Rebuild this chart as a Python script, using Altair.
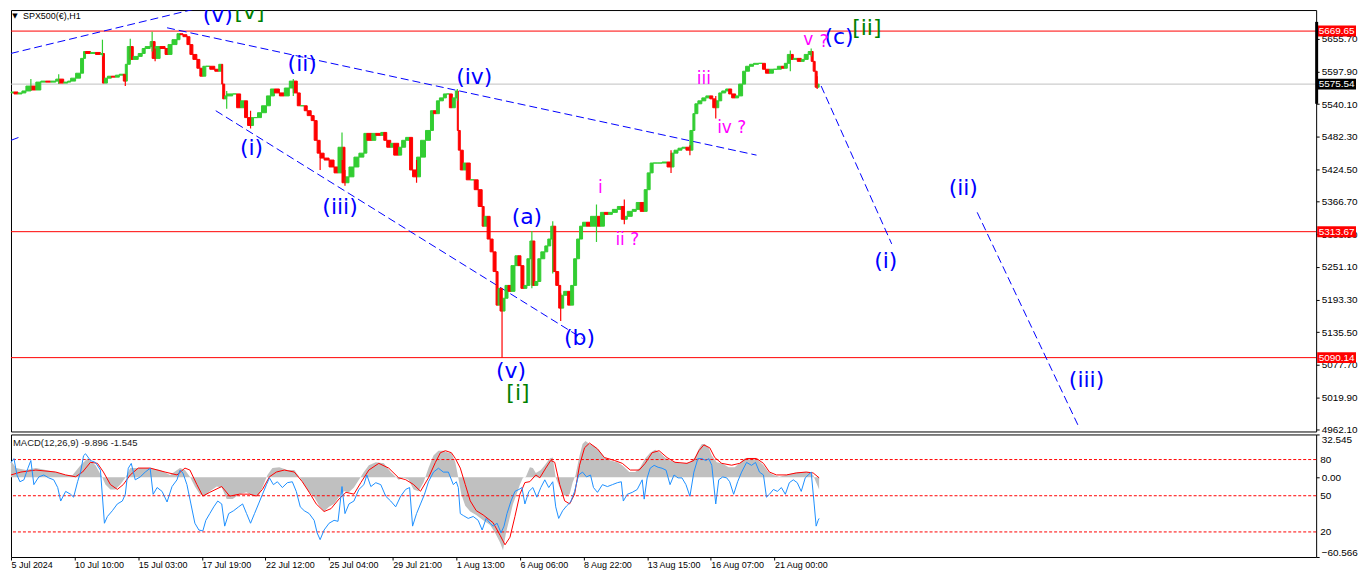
import json
import numpy as np
import pandas as pd
import altair as alt

# ---------------- price path (H1 bars, bar number from first visible bar) ----------------
bar_pos = [0, 3, 7, 11, 15, 20, 25, 30, 35, 40,
           45, 48, 53, 57, 60, 65, 70, 73, 75, 80,
           85, 90, 92, 94, 97, 101, 105, 109, 113, 115,
           117, 120, 123, 128, 132, 135, 140, 142, 145, 150,
           155, 158, 162, 167, 170, 173, 177, 180, 183, 187,
           190, 193, 196, 200, 205, 209, 212, 213, 215, 217,
           223, 227, 231, 235, 238, 241, 244, 248, 252, 257,
           261, 265, 270, 275, 280, 284, 288, 291, 295, 298,
           302, 305, 308, 311, 315, 320, 325, 329, 333, 336,
           340, 345, 350, 355, 358, 363, 367, 372, 375, 378,
           382, 385, 390, 393, 397, 401, 404, 408, 412, 417,
           422, 425, 428, 431, 435, 438, 441, 444, 447, 449,
           450, 452, 455, 458, 462, 466, 470, 474, 476, 479,
           482, 485, 488, 490, 492, 494, 497, 500, 503, 507,
           510, 513, 516, 519, 522, 524, 527, 530, 533, 537,
           540, 543, 545, 548, 551, 553, 556, 560, 563, 566,
           569, 572, 575, 579, 583, 589, 593, 597, 601, 605,
           610, 614, 617, 620, 625, 629, 633, 637, 640, 643,
           646, 650, 655, 660, 664, 667, 671, 675, 679, 683,
           686, 688, 691, 695, 699, 703, 706, 709, 712, 715,
           719, 722, 725, 729, 732, 736, 739, 743, 747, 752,
           756, 759, 763, 767, 771, 775, 778, 781, 784, 787,
           791, 795, 798, 802, 805, 807, 809, 811, 813]
bar_close = [5559.9, 5561.6, 5558.1, 5559.9, 5563.4, 5572.1, 5565.1, 5579.1, 5580.9, 5579.1,
             5580.9, 5584.4, 5577.4, 5579.1, 5580.9, 5586.1, 5594.9, 5621.2, 5633.4, 5629.9,
             5631.7, 5628.2, 5629.9, 5577.4, 5586.1, 5589.6, 5587.9, 5591.4, 5593.1, 5580.9,
             5610.7, 5642.2, 5619.4, 5624.7, 5629.9, 5638.7, 5642.2, 5651.0, 5621.2, 5642.2,
             5638.7, 5628.2, 5645.7, 5654.4, 5665.0, 5663.2, 5659.7, 5645.7, 5628.2, 5619.4,
             5603.7, 5589.6, 5607.2, 5607.2, 5601.9, 5598.4, 5610.7, 5575.6, 5549.4, 5554.6,
             5558.1, 5558.1, 5533.6, 5545.9, 5516.1, 5502.1, 5516.1, 5516.1, 5524.8, 5537.1,
             5554.6, 5566.9, 5559.9, 5554.6, 5568.6, 5580.9, 5559.9, 5537.1, 5537.1, 5528.3,
             5519.6, 5510.8, 5475.8, 5453.0, 5444.3, 5440.8, 5428.5, 5418.0, 5463.5, 5400.5,
             5411.0, 5428.5, 5446.0, 5453.0, 5488.1, 5475.8, 5488.1, 5484.6, 5489.8, 5475.8,
             5463.5, 5470.5, 5449.5, 5463.5, 5475.8, 5481.0, 5423.2, 5411.0, 5446.0, 5475.8,
             5493.3, 5528.3, 5523.1, 5545.9, 5551.1, 5558.1, 5558.1, 5533.6, 5551.1, 5563.4,
             5493.3, 5458.3, 5423.2, 5435.5, 5405.7, 5405.7, 5388.2, 5358.4, 5323.4, 5340.9,
             5300.6, 5277.9, 5242.9, 5183.3, 5213.1, 5172.8, 5195.5, 5218.3, 5207.8, 5253.4,
             5270.9, 5253.4, 5213.1, 5218.3, 5265.6, 5297.1, 5218.3, 5225.3, 5265.6, 5277.9,
             5288.4, 5300.6, 5323.4, 5242.9, 5218.3, 5178.0, 5200.8, 5207.8, 5183.3, 5218.3,
             5265.6, 5300.6, 5323.4, 5330.4, 5323.4, 5340.9, 5323.4, 5347.9, 5344.4, 5347.9,
             5353.2, 5358.4, 5335.7, 5340.9, 5349.7, 5353.2, 5365.5, 5349.7, 5388.2, 5418.0,
             5435.5, 5435.5, 5435.5, 5437.3, 5428.5, 5453.0, 5458.3, 5461.8, 5463.5, 5458.3,
             5493.3, 5523.1, 5540.6, 5545.9, 5551.1, 5554.6, 5549.4, 5533.6, 5545.9, 5559.9,
             5563.4, 5566.9, 5558.1, 5551.1, 5554.6, 5575.6, 5598.4, 5607.2, 5610.7, 5612.4,
             5612.4, 5601.9, 5594.9, 5601.9, 5601.9, 5607.2, 5603.7, 5612.4, 5628.2, 5619.4,
             5621.2, 5615.9, 5619.4, 5628.2, 5633.4, 5615.9, 5598.4, 5570.0, 5575.5]

# wicks that stick out of the path
spike_pos = [20, 48, 92, 115, 120, 142, 145, 217, 241, 284, 311, 333, 336, 408, 449,
             494, 524, 545, 553, 589, 617, 664, 683, 709, 784, 805, 811]
spike_hi = [5584.4, 5593.1, 5654.4, 5593.1, 5656.2, 5668.5, 5638.7, 5563.4, 5528.3, 5584.4,
            5458.3, 5489.8, 5423.2, 5440.8, 5566.9, 5213.1, 5314.7, 5332.2, 5204.3, 5361.9,
            5370.7, 5458.3, 5467.0, 5554.6, 5635.2, 5638.7, 5589.6]
spike_lo = [5563.4, 5575.6, 5624.7, 5572.1, 5615.9, 5633.4, 5615.9, 5531.8, 5496.8, 5554.6,
            5423.2, 5440.8, 5395.2, 5400.5, 5545.9, 5090.1, 5213.1, 5239.4, 5155.2, 5295.4,
            5326.9, 5418.0, 5449.5, 5514.3, 5598.4, 5624.7, 5566.9]

# price scale
price_ticks = [4962.10, 5019.90, 5077.70, 5135.50, 5193.30, 5251.10, 5308.90,
               5366.70, 5424.50, 5482.30, 5540.10, 5597.90, 5655.70]
level_prices = [5669.65, 5313.67, 5090.14]
last_price = [5575.54]
scale_bar = [5686.0, 5540.6]

# time axis
time_tick_pos = [0, 64, 128, 192, 256, 320, 384, 448, 512, 576, 640, 704, 768]
time_tick_labels = ["5 Jul 2024", "10 Jul 10:00", "15 Jul 03:00", "17 Jul 19:00", "22 Jul 12:00",
                    "25 Jul 04:00", "29 Jul 21:00", "1 Aug 13:00", "6 Aug 06:00", "8 Aug 22:00",
                    "13 Aug 15:00", "16 Aug 07:00", "21 Aug 00:00"]

# trend / projection lines
tl_seg = ["A", "A", "B", "B", "C", "C", "D", "D", "E", "E", "F", "F"]
tl_bar = [0, 200, 0, 8, 157, 750, 206, 575, 815, 886, 972, 1075]
tl_price = [5630.0, 5715.2, 5475.8, 5481.1, 5675.5, 5449.5, 5528.3, 5124.0,
            5572.2, 5292.0, 5348.0, 4964.4]

# wave labels
wave_text = ["(v)", "[v]", "(ii)", "(i)", "(iii)", "(iv)", "(a)", "(b)", "(v)", "[i]",
             "i", "ii ?", "iii", "iv ?", "v", "?", "(c)", "[ii]", "(i)", "(ii)", "(iii)"]
wave_bar = [208, 240, 293, 242, 331, 466, 519, 572, 503, 510,
            593, 620, 697, 725, 802, 818, 833, 861, 880, 958, 1082]
wave_price = [5698.2, 5703.5, 5610.7, 5461.8, 5356.7, 5587.9, 5339.2, 5125.5, 5066.0, 5027.4,
              5391.7, 5298.9, 5584.4, 5496.8, 5654.4, 5651.0, 5659.7, 5675.5, 5262.1, 5391.7, 5050.2]
wave_degree = ["minute", "minor", "minute", "minute", "minute", "minute", "minute", "minute",
               "minute", "minor", "minuette", "minuette", "minuette", "minuette", "minuette",
               "minuette", "minute", "minor", "minute", "minute", "minute"]

# ---------------- MACD window ----------------
hist_bar = [0, 5, 15, 25, 35, 45, 55, 62, 70, 77,
            85, 92, 95, 100, 105, 110, 115, 120, 130, 140,
            150, 160, 170, 175, 180, 185, 190, 195, 200, 207,
            212, 217, 223, 230, 237, 243, 249, 253, 258, 263,
            270, 278, 285, 290, 295, 300, 305, 310, 315, 320,
            325, 330, 335, 340, 345, 350, 355, 360, 367, 375,
            382, 390, 395, 400, 405, 410, 415, 420, 425, 430,
            435, 440, 443, 447, 450, 453, 457, 462, 468, 475,
            482, 487, 492, 495, 498, 502, 505, 508, 512, 515,
            518, 522, 525, 528, 533, 537, 542, 545, 548, 552,
            555, 558, 562, 565, 568, 572, 575, 578, 582, 587,
            592, 597, 603, 610, 615, 622, 628, 633, 638, 643,
            648, 653, 658, 663, 668, 673, 678, 683, 688, 692,
            695, 698, 702, 705, 710, 715, 722, 728, 733, 738,
            742, 747, 752, 757, 762, 767, 773, 780, 787, 793,
            798, 803, 807, 810, 813]
hist_val = [12.8, 7.0, 5.5, 7.0, 5.5, 4.0, 1.8, 1.8, 9.2, 14.3,
            9.2, -0.4, -5.5, -9.2, -9.2, -5.5, -0.4, 7.0, 7.0, 7.0,
            5.5, 1.8, 7.0, 5.5, 0.4, -7.0, -12.8, -14.3, -10.6, -7.0,
            -7.7, -16.5, -16.5, -12.8, -11.4, -14.3, -14.3, -7.7, 1.8, 7.0,
            7.7, 5.5, 5.5, 0.4, -5.5, -11.4, -15.0, -21.6, -26.0, -22.4,
            -20.2, -15.0, -10.6, -11.4, -7.7, -1.8, 4.0, 9.2, 11.4, 10.6,
            4.0, -1.8, -0.4, -1.8, -9.2, -10.6, -4.0, 7.0, 16.5, 20.2,
            20.2, 18.7, 18.7, 11.4, -0.4, -12.8, -21.6, -26.0, -28.6, -32.6,
            -36.3, -42.2, -49.5, -55.4, -42.2, -29.7, -20.2, -14.3, -5.5, -0.4,
            0.4, 7.7, 7.0, 3.3, 5.5, 9.2, 14.3, 15.0, -0.4, -7.7,
            -12.8, -14.3, -12.8, -4.0, 1.8, 16.5, 25.3, 27.5, 25.3, 23.8,
            20.2, 15.0, 12.8, 11.4, 9.2, 4.0, 4.0, 7.7, 14.3, 18.7,
            20.9, 18.7, 15.0, 12.8, 11.4, 10.6, 10.6, 11.4, 15.0, 21.6,
            25.3, 25.3, 22.4, 16.5, 11.4, 10.6, 7.7, 7.7, 10.6, 14.3,
            14.3, 14.3, 12.8, 9.2, 4.0, 1.8, 0.4, 1.8, 3.3, 4.0,
            4.0, 4.0, 1.8, -4.0, -9.2]

sig_bar = [0, 10, 25, 45, 55, 65, 72, 80, 87, 93,
           100, 107, 113, 120, 128, 140, 155, 167, 175, 180,
           187, 193, 200, 212, 220, 230, 240, 247, 253, 260,
           267, 275, 285, 293, 300, 307, 315, 322, 330, 337,
           345, 352, 360, 370, 380, 390, 397, 405, 412, 420,
           427, 432, 437, 443, 447, 452, 457, 462, 468, 475,
           485, 492, 497, 502, 507, 512, 517, 522, 528, 532,
           538, 543, 547, 552, 557, 562, 567, 572, 577, 582,
           590, 597, 607, 615, 623, 632, 638, 645, 652, 660,
           668, 680, 687, 692, 697, 703, 708, 715, 725, 733,
           740, 750, 757, 763, 770, 780, 790, 800, 807, 813]
sig_val = [1.8, 4.0, 5.5, 4.0, 1.8, 0.4, 4.0, 11.4, 10.6, 4.0,
           -5.5, -9.2, -5.5, 1.8, 7.0, 7.0, 4.0, 1.8, 7.0, 5.5,
           -5.5, -14.3, -11.4, -7.0, -14.3, -12.8, -12.8, -14.3, -9.2, 0.4,
           4.0, 5.5, 4.0, -3.3, -11.4, -20.2, -26.0, -23.8, -16.5, -11.4,
           -12.8, -4.0, 5.5, 10.6, 7.0, -0.4, -1.8, -5.5, -10.6, -0.4,
           11.4, 18.7, 20.2, 18.7, 14.3, 7.0, -5.5, -17.9, -25.3, -28.6,
           -34.5, -44.0, -51.3, -45.5, -29.7, -12.8, -4.0, -3.3, 1.8, -0.4,
           7.0, 12.8, 11.4, -5.5, -17.9, -20.2, -12.8, 9.2, 22.4, 26.0,
           21.6, 15.0, 12.8, 10.6, 5.5, 5.5, 10.6, 18.7, 20.2, 15.0,
           11.4, 10.6, 12.8, 20.2, 24.6, 22.4, 15.0, 10.6, 9.2, 10.6,
           14.3, 14.3, 10.6, 4.0, 1.8, 1.8, 3.3, 4.0, 3.3, -0.4]

stoch_bar = [0, 3, 6, 9, 13, 17, 20, 23, 28, 33,
             38, 43, 47, 50, 55, 60, 63, 67, 70, 73,
             75, 80, 85, 90, 94, 97, 102, 107, 112, 115,
             118, 121, 125, 130, 135, 140, 143, 147, 152, 157,
             162, 167, 170, 173, 177, 181, 185, 189, 193, 196,
             200, 204, 208, 212, 215, 219, 224, 229, 233, 237,
             241, 245, 249, 253, 257, 260, 264, 268, 273, 278,
             283, 287, 291, 295, 300, 305, 308, 311, 315, 320,
             325, 329, 333, 336, 340, 345, 350, 355, 358, 362,
             367, 372, 377, 382, 387, 392, 397, 401, 404, 408,
             412, 416, 420, 425, 430, 435, 440, 445, 448, 450,
             452, 455, 460, 465, 470, 474, 478, 482, 485, 489,
             493, 496, 499, 503, 507, 511, 514, 517, 521, 525,
             529, 533, 537, 541, 545, 548, 551, 555, 559, 563,
             567, 571, 575, 579, 583, 586, 590, 595, 600, 605,
             610, 614, 616, 620, 625, 630, 635, 637, 640, 643,
             647, 651, 655, 659, 663, 667, 671, 675, 679, 683,
             687, 691, 695, 699, 702, 705, 709, 712, 716, 720,
             723, 727, 731, 735, 740, 745, 749, 753, 757, 760,
             763, 767, 771, 775, 779, 783, 787, 791, 795, 799,
             802, 805, 808, 810, 812, 813]
stoch_val = [77.6, 80.8, 67.2, 61.6, 63.2, 72.8, 79.2, 59.2, 65.6, 67.2,
             64.8, 63.2, 56.8, 45.6, 53.6, 51.2, 48.8, 61.6, 69.6, 83.2,
             84.8, 79.2, 77.6, 71.2, 27.2, 32.8, 37.6, 43.2, 45.6, 51.2,
             72.8, 76.8, 63.2, 65.6, 69.6, 72.8, 51.2, 56.8, 53.6, 44.8,
             57.6, 63.2, 71.2, 68.8, 59.2, 43.2, 27.2, 21.6, 20.8, 29.6,
             35.2, 40.8, 45.6, 43.2, 24.8, 35.2, 37.6, 40.8, 43.2, 35.2,
             27.2, 35.2, 43.2, 51.2, 59.2, 64.8, 59.2, 61.6, 56.8, 60.8,
             61.6, 53.6, 40.8, 37.6, 35.2, 29.6, 19.2, 13.6, 21.6, 27.2,
             29.6, 28.8, 57.6, 35.2, 43.2, 45.6, 55.2, 59.2, 67.2, 57.6,
             60.8, 59.2, 49.6, 45.6, 40.8, 49.6, 55.2, 56.8, 24.8, 35.2,
             43.2, 51.2, 61.6, 69.6, 72.8, 69.6, 69.6, 59.2, 61.6, 56.8,
             35.2, 33.6, 31.2, 32.8, 29.6, 21.6, 31.2, 27.2, 24.8, 27.2,
             19.2, 24.8, 35.2, 45.6, 53.6, 55.2, 56.8, 43.2, 53.6, 56.8,
             48.8, 56.8, 63.2, 56.8, 61.6, 40.8, 31.2, 37.6, 41.6, 44.8,
             53.6, 67.2, 69.6, 65.6, 67.2, 56.8, 52.8, 59.2, 57.6, 59.2,
             60.8, 61.6, 45.6, 51.2, 52.8, 55.2, 63.2, 47.2, 64.8, 72.8,
             75.2, 73.6, 72.8, 71.2, 59.2, 67.2, 64.8, 64.8, 59.2, 49.6,
             69.6, 80.8, 80.8, 79.2, 80.8, 75.2, 43.2, 63.2, 65.6, 64.8,
             61.6, 51.2, 61.6, 69.6, 77.6, 75.2, 77.6, 69.6, 67.2, 48.8,
             51.2, 55.2, 53.6, 56.8, 51.2, 60.8, 63.2, 60.8, 53.6, 64.8,
             67.2, 69.6, 43.2, 24.8, 29.6, 31.2]
stoch_levels = [80, 50, 20]
macd_axis_values = [32.545, 0.0, -60.566]

assert len(bar_pos) == len(bar_close)
assert len(hist_bar) == len(hist_val)
assert len(sig_bar) == len(sig_val)
assert len(stoch_bar) == len(stoch_val)

# ---------------- frames ----------------
bars = pd.DataFrame({"bar": bar_pos, "close": bar_close})
bars["open"] = bars["close"].shift(1).fillna(bars["close"])
bars["bar0"] = bars["bar"].shift(1).fillna(bars["bar"])
bars["dir"] = np.where(bars["close"] >= bars["open"], "up", "down")

spikes = pd.DataFrame({"bar": spike_pos, "hi": spike_hi, "lo": spike_lo})
spikes = spikes.merge(bars[["bar", "dir"]], on="bar", how="left").fillna({"dir": "up"})

levels_df = pd.DataFrame({"price": level_prices})
last_df = pd.DataFrame({"price": last_price})
lev_tags = pd.DataFrame({"price": level_prices})
lev_tags["label"] = lev_tags["price"].map(lambda v: f"{v:.2f}")
last_tags = pd.DataFrame({"price": last_price})
last_tags["label"] = last_tags["price"].map(lambda v: f"{v:.2f}")
lines_df = pd.DataFrame({"seg": tl_seg, "bar": tl_bar, "price": tl_price})
waves_df = pd.DataFrame({"t": wave_text, "bar": wave_bar, "price": wave_price, "deg": wave_degree})
sbar_df = pd.DataFrame({"hi": [scale_bar[0]], "lo": [scale_bar[1]]})

hist_df = pd.DataFrame({"bar": hist_bar, "val": hist_val})
sig_df = pd.DataFrame({"bar": sig_bar, "val": sig_val})
stoch_df = pd.DataFrame({"bar": stoch_bar, "val": stoch_val})
slev_df = pd.DataFrame({"lvl": stoch_levels})

# ---------------- layout ----------------
W, H1, H2 = 1310, 423, 123
FONT = "Liberation Sans"
xs = alt.Scale(domain=[0, 1313], nice=False, zero=False)
ys = alt.Scale(domain=[4959.1, 5707.0], nice=False, zero=False)
dir_scale = alt.Scale(domain=["up", "down"], range=["#32cd32", "#ff0000"])

yaxis = alt.Axis(orient="right", values=price_ticks, format=".2f", title=None, tickSize=3,
                 labelPadding=2, labelFontSize=10, labelFont=FONT, labelColor="black",
                 tickColor="black", grid=False, domain=False)


def Y(field):
    return alt.Y(field, scale=ys, axis=yaxis)


XN = dict(scale=xs, axis=None)

lev = alt.Chart(levels_df).mark_rule(color="#ff0000", strokeWidth=1).encode(y=Y("price:Q"))
lastl = alt.Chart(last_df).mark_rule(color="#c0c0c0", strokeWidth=1).encode(y=Y("price:Q"))

candles = alt.Chart(bars).mark_rect(strokeWidth=1).encode(
    x=alt.X("bar0:Q", **XN), x2="bar:Q",
    y=Y("open:Q"), y2="close:Q",
    fill=alt.Fill("dir:N", scale=dir_scale, legend=None),
    stroke=alt.Stroke("dir:N", scale=dir_scale, legend=None))

wicks = alt.Chart(spikes).mark_rule(strokeWidth=1.2).encode(
    x=alt.X("bar:Q", **XN),
    y=Y("hi:Q"), y2="lo:Q",
    stroke=alt.Stroke("dir:N", scale=dir_scale, legend=None))

tlines = alt.Chart(lines_df).mark_line(color="#0000ff", strokeWidth=1, strokeDash=[8, 4], clip=True).encode(
    x=alt.X("bar:Q", **XN), y=Y("price:Q"), detail="seg:N")

deg_style = {"minor": ("#008000", 22), "minute": ("#0000ff", 22), "minuette": ("#ff00ff", 17)}
wave_layers = []
for deg, (col, fs) in deg_style.items():
    wave_layers.append(
        alt.Chart(waves_df).transform_filter(alt.datum.deg == deg).mark_text(
            font="DejaVu Sans", fontSize=fs, color=col, align="center", baseline="middle", clip=True
        ).encode(x=alt.X("bar:Q", **XN), y=Y("price:Q"), text="t:N"))

tag_layers = []
for tdf, col in ((lev_tags, "#ff0000"), (last_tags, "#000000")):
    tag_layers.append(alt.Chart(tdf).mark_tick(orient="horizontal", thickness=11, size=39, color=col,
                                               opacity=1).encode(
        x=alt.value(W + 20.5), y=Y("price:Q")))
    tag_layers.append(alt.Chart(tdf).mark_text(align="left", baseline="middle", font=FONT, fontSize=10,
                                               color="white").encode(
        x=alt.value(W + 2.5), y=Y("price:Q"), text="label:N"))

sbar = alt.Chart(sbar_df).mark_rule(color="black", strokeWidth=3).encode(
    x=alt.value(W + 0.5), y=Y("hi:Q"), y2="lo:Q")

title_txt = alt.Chart(pd.DataFrame({"t": ["SPX500(€),H1"]})).mark_text(
    align="left", baseline="middle", font=FONT, fontSize=9, color="black").encode(
    x=alt.value(12), y=alt.value(6), text="t:N")
tri_txt = alt.Chart(pd.DataFrame({"t": ["▼"]})).mark_text(
    align="center", baseline="middle", font="DejaVu Sans", fontSize=7, color="black").encode(
    x=alt.value(4), y=alt.value(6), text="t:N")

main = alt.layer(lev, lastl, tlines, candles, wicks, *wave_layers, *tag_layers, sbar,
                 title_txt, tri_txt).properties(width=W, height=H1)

# ---------------- MACD panel ----------------
ms = alt.Scale(domain=[-60.566, 32.545], nice=False, zero=False)
ss = alt.Scale(domain=[-0.8, 100.8], nice=False, zero=False)

xaxis = alt.Axis(values=time_tick_pos,
                 labelExpr=f"{json.dumps(time_tick_labels)}[indexof({json.dumps(time_tick_pos)}, datum.value)]",
                 title=None, tickSize=3, labelPadding=1, labelAlign="left", labelFontSize=9,
                 labelFont=FONT, labelColor="black", tickColor="black", grid=False, domain=False,
                 labelFlush=False, labelOverlap=False)
maxis = alt.Axis(orient="right", values=macd_axis_values, title=None, tickSize=3, labelPadding=2,
                 labelFontSize=10, labelFont=FONT, labelColor="black", tickColor="black",
                 grid=False, domain=False,
                 labelExpr="datum.value == 0 ? '0.00' : format(datum.value, '.3f')",
                 labelBaseline={"condition": [{"test": "datum.value > 30", "value": "top"},
                                              {"test": "datum.value < -50", "value": "bottom"}],
                                "value": "middle"})


def MX(field):
    return alt.X(field, scale=xs, axis=xaxis)


hist = alt.Chart(hist_df).mark_area(color="#c0c0c0").encode(
    x=MX("bar:Q"), y=alt.Y("val:Q", scale=ms, axis=maxis), y2=alt.datum(0))
sig = alt.Chart(sig_df).mark_line(color="#ff0000", strokeWidth=1).encode(
    x=MX("bar:Q"), y=alt.Y("val:Q", scale=ms, axis=maxis))
macd_part = alt.layer(hist, sig)

slev = alt.Chart(slev_df).mark_rule(color="#ff0000", strokeWidth=1, strokeDash=[3, 2]).encode(
    y=alt.Y("lvl:Q", scale=ss, axis=None))
sline = alt.Chart(stoch_df).mark_line(color="#1e90ff", strokeWidth=1).encode(
    x=MX("bar:Q"), y=alt.Y("val:Q", scale=ss, axis=None))
stxt = alt.Chart(slev_df).mark_text(align="left", baseline="middle", font=FONT, fontSize=10,
                                    color="black").encode(
    x=alt.value(W + 4), y=alt.Y("lvl:Q", scale=ss, axis=None), text="lvl:Q")
stoch_part = alt.layer(slev, sline, stxt)

macd_title = alt.Chart(pd.DataFrame({"t": ["MACD(12,26,9) -9.896 -1.545"]})).mark_text(
    align="left", baseline="middle", font=FONT, fontSize=9.5, color="#202020").encode(
    x=alt.value(2), y=alt.value(9), text="t:N")

macd = alt.layer(macd_part, stoch_part, macd_title).resolve_scale(y="independent").properties(
    width=W, height=H2)

chart = alt.vconcat(main, macd, spacing=3, bounds="flush").properties(padding=0).configure_view(
    stroke="black", strokeWidth=1).configure_axis(labelFont=FONT)

chart.save("out.html", embed_options={"renderer": "svg", "actions": False})
